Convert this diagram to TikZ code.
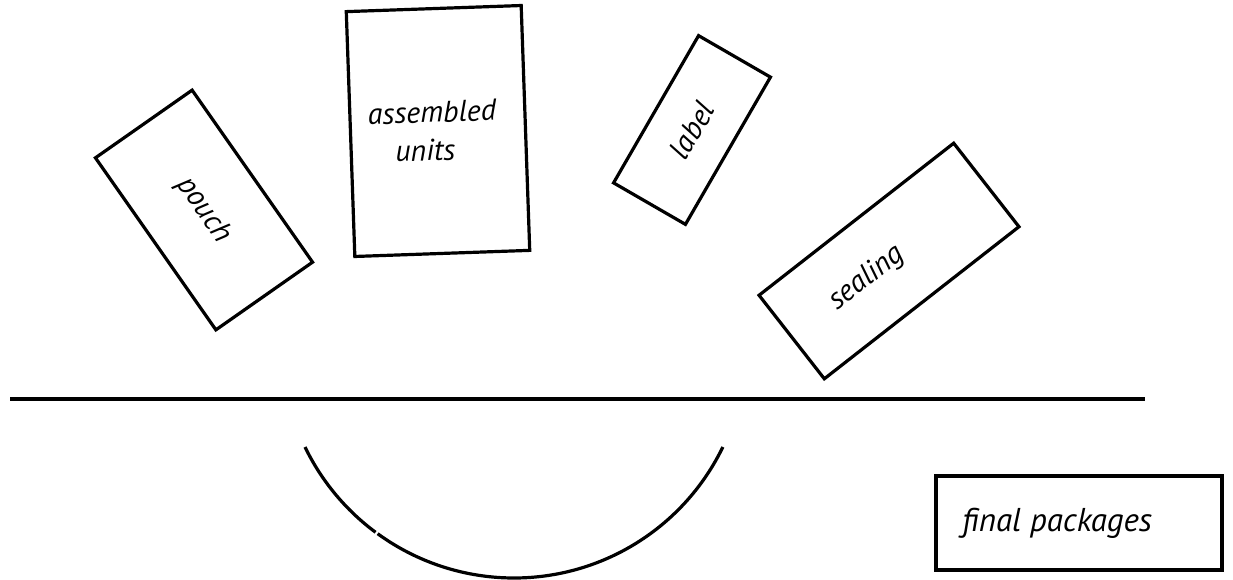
\documentclass[tikz,border=0pt]{standalone}
\usepackage{fontspec}
\setmainfont{PT Sans}
\begin{document}
\begin{tikzpicture}[x=1pt,y=-1pt,
  box/.style={draw, line width=3.2pt, inner sep=0pt,
    font=\itshape\fontsize{30}{38}\selectfont},
  rule/.style={line width=3.2pt}]
\useasboundingbox (0,0) rectangle (1233,580);

% stations around the turntable
\node[box, rotate=-55, minimum width=210pt, minimum height=118pt]
  (pouch) at (204,210) {pouch};
\node[box, rotate=2, minimum height=245pt, text width=175pt, align=left]
  (units) at (438,131) {\hspace*{18pt}assembled\\\hspace*{44pt}units};
\node[box, rotate=60, minimum width=170pt, minimum height=83pt]
  (label) at (692,130) {label};
\node[box, rotate=38, minimum height=106pt, text width=247pt, align=left]
  (sealing) at (889,261) {\hspace*{52pt}sealing};

% conveyor line
\coordinate (lineL) at (10,399);
\coordinate (lineR) at (1145,399);
\draw[rule] (lineL) -- (lineR);

% turntable arc (with its small break)
\coordinate (arcL) at (305,447);
\draw[rule] (arcL) arc[start angle=154.2, end angle=126.6, radius=232];
\draw[rule] (514,346) ++(126.0:232) arc[start angle=126.0, end angle=25.8, radius=232];

% output
\node[box, minimum height=94pt, text width=286pt, align=left,
      font=\itshape\fontsize{33}{38}\selectfont]
  (final) at (1079,523) {\hspace*{26pt}final\hspace{9pt}packages};
\end{tikzpicture}
\end{document}
